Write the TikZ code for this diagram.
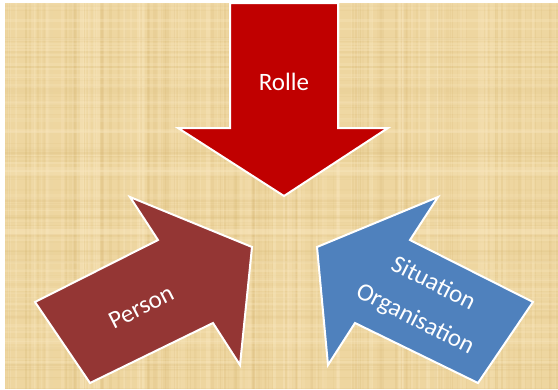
\documentclass[tikz,border=0pt]{standalone}
\usepackage{fontspec}
\setmainfont{Carlito}
\begin{document}
\begin{tikzpicture}[x=1pt,y=-1pt,
  arrowshape/.style={draw=white,line width=2pt,line join=miter},
  label/.style={text=white,font=\fontsize{25}{40}\selectfont,align=center,inner sep=0pt},
  fibre/.style={draw=papyrusdark},
  lightfibre/.style={draw=papyruslight}]
\definecolor{papyrus}{RGB}{238,214,160}
\definecolor{papyrusdark}{RGB}{205,170,95}
\definecolor{papyruslight}{RGB}{250,232,192}
\definecolor{rollered}{RGB}{192,0,0}
\definecolor{personbrown}{RGB}{148,54,52}
\definecolor{sitblue}{RGB}{79,129,189}
\useasboundingbox (0,0) rectangle (558,389);
% papyrus background
\fill[white] (0,0) rectangle (558,389);
\fill[papyrus] (5,3) rectangle (558,389);
\begin{scope}
\clip (5,3) rectangle (558,389);
\pgfmathsetseed{7}
% vertical fibres
\foreach \i in {1,...,140}{
  \pgfmathsetmacro\xa{5+553*rnd}
  \pgfmathsetmacro\op{0.04+0.10*rnd}
  \pgfmathsetmacro\lw{0.6+2.4*rnd}
  \draw[fibre,opacity=\op,line width=\lw pt] (\xa,3) -- (\xa,389);
}
\foreach \i in {1,...,90}{
  \pgfmathsetmacro\xa{5+553*rnd}
  \pgfmathsetmacro\op{0.15+0.25*rnd}
  \pgfmathsetmacro\lw{1+3*rnd}
  \draw[lightfibre,opacity=\op,line width=\lw pt] (\xa,3) -- (\xa,389);
}
% horizontal fibres
\foreach \i in {1,...,90}{
  \pgfmathsetmacro\ya{3+386*rnd}
  \pgfmathsetmacro\op{0.03+0.08*rnd}
  \pgfmathsetmacro\lw{0.6+2.4*rnd}
  \draw[fibre,opacity=\op,line width=\lw pt] (5,\ya) -- (558,\ya);
}
\foreach \i in {1,...,60}{
  \pgfmathsetmacro\ya{3+386*rnd}
  \pgfmathsetmacro\op{0.12+0.2*rnd}
  \pgfmathsetmacro\lw{1+3*rnd}
  \draw[lightfibre,opacity=\op,line width=\lw pt] (5,\ya) -- (558,\ya);
}
\end{scope}
% downward arrow
\filldraw[arrowshape,fill=rollered]
  (230,3) -- (338,3) -- (338,128) -- (388,128) -- (284,196)
  -- (178,128) -- (230,128) -- cycle;
\node[label] (rolle) at (284,82) {Rolle};
% arrow from the lower left
\filldraw[arrowshape,fill=personbrown]
  (35,302) -- (158,240) -- (130,197) -- (252,247)
  -- (240,365) -- (213,323) -- (90,383) -- cycle;
\node[label,rotate=27] (person) at (141,307) {Person};
% arrow from the lower right
\filldraw[arrowshape,fill=sitblue]
  (533,302) -- (410,240) -- (438,197) -- (317,247)
  -- (328,365) -- (355,323) -- (478,383) -- cycle;
\node[label,rotate=-27] (situation) at (424,302) {Situation\\Organisation};
\end{tikzpicture}
\end{document}
